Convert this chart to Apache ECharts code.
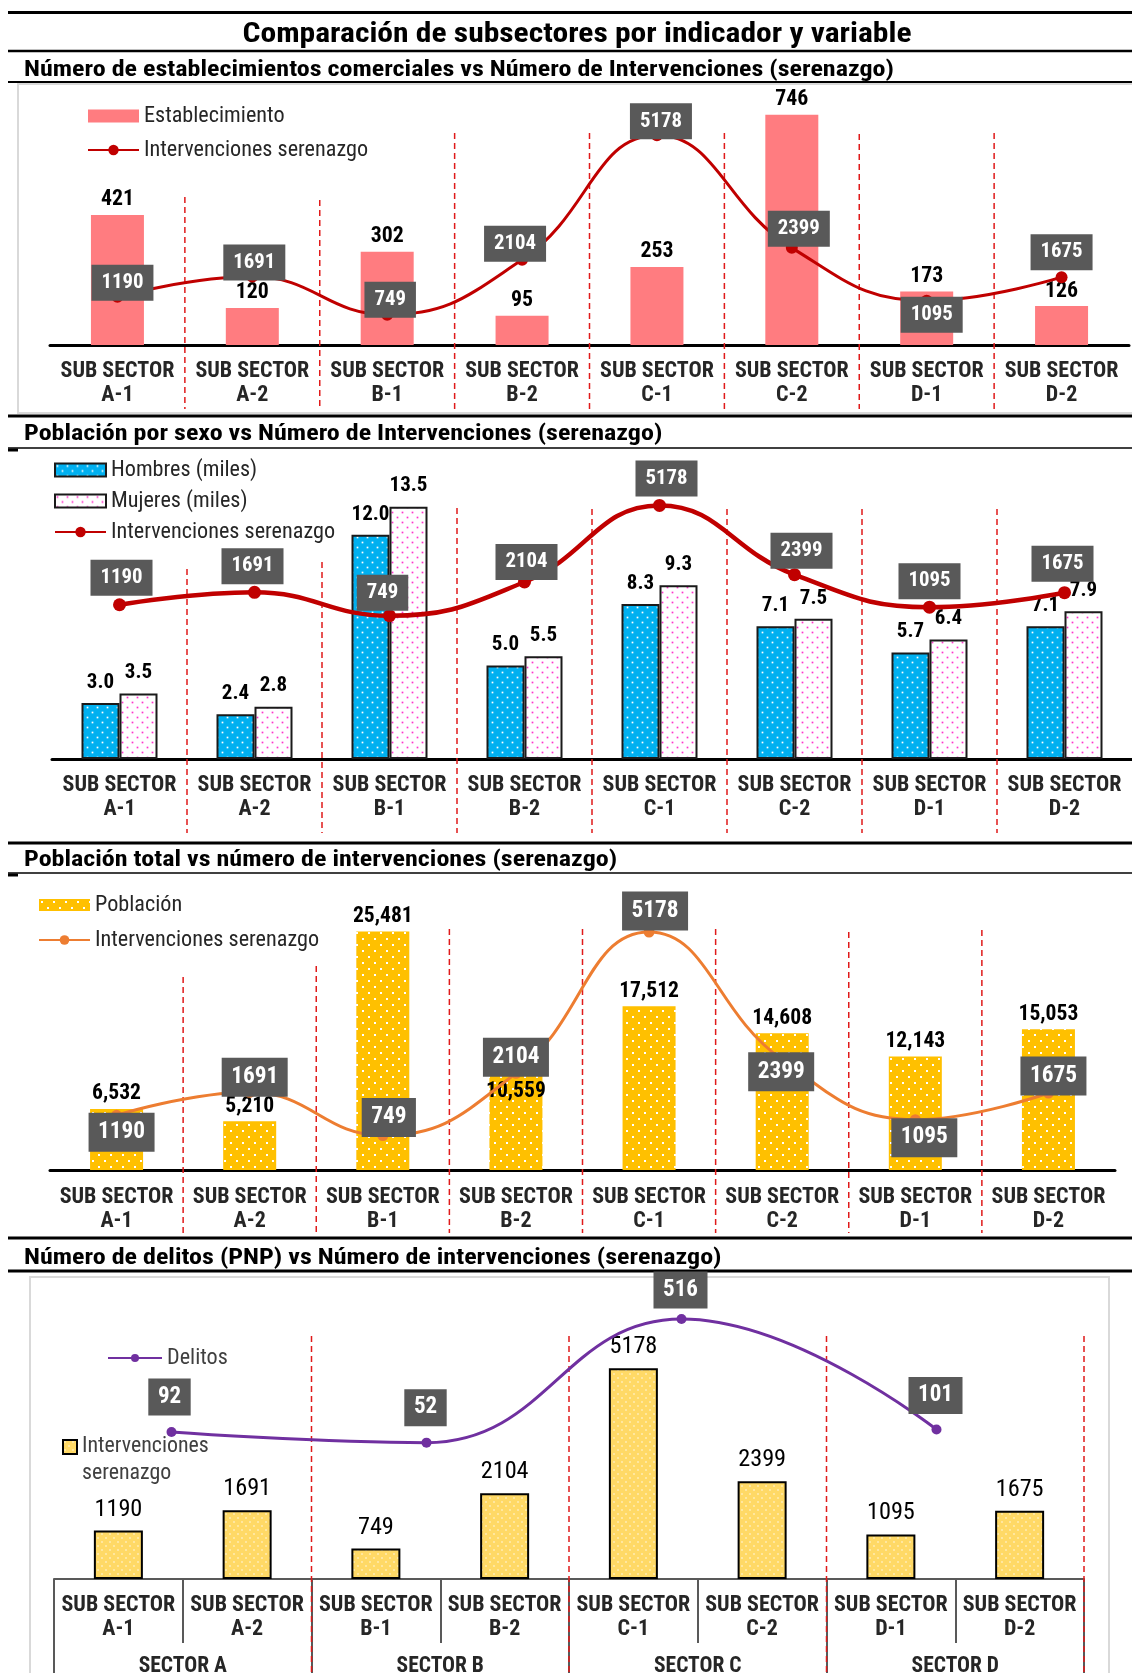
<!DOCTYPE html>
<html>
<head>
<meta charset="utf-8">
<title>Comparación de subsectores por indicador y variable</title>
<script src="https://cdn.jsdelivr.net/npm/echarts@6/dist/echarts.min.js"></script>
<style>
  html, body { margin: 0; padding: 0; background: #fff; }
  #chart { width: 1132px; height: 1673px; }
</style>
</head>
<body>
<div id="chart"></div>
<script>
// ---- data ----
const subsectors = ['A-1', 'A-2', 'B-1', 'B-2', 'C-1', 'C-2', 'D-1', 'D-2'];
const sectors = ['SECTOR A', 'SECTOR B', 'SECTOR C', 'SECTOR D'];
const establecimientos = [421, 120, 302, 95, 253, 746, 173, 126];
const intervenciones = [1190, 1691, 749, 2104, 5178, 2399, 1095, 1675];
const hombres = [3.0, 2.4, 12.0, 5.0, 8.3, 7.1, 5.7, 7.1];
const mujeres = [3.5, 2.8, 13.5, 5.5, 9.3, 7.5, 6.4, 7.9];
const poblacion = [6532, 5210, 25481, 10559, 17512, 14608, 12143, 15053];
const delitos = [92, 52, 516, 101];

// ---- label placement for the value boxes (pixel shift of the box centre from the point) ----
const boxShift1 = [[5, -14], [2, -14], [3, -15], [-7, -16], [4, -14], [7, -19], [5, 14], [0, -25]];
const boxShift2 = [[2, -27], [-2, -26], [-7, -23], [2, -20], [7, -27], [7, -24], [0, -26], [-2, -29]];
const boxShift3 = [[5, 17], [5, -15], [6, -18], [0, -16], [6, -21], [-1, 12], [9, 18], [5, -17]];
const boxShift4 = [[-2, -35], [-1, -35], [-1, -29], [-1, -34]];
const poblacionLabelPos = ['top', 'top', 'top', 'insideTop', 'top', 'top', 'top', 'top'];

// ---- fonts: prefer a narrow face, then size text to the narrow widths ----
const mctx = document.createElement('canvas').getContext('2d');
function measureWith(font, text) { mctx.font = font; return mctx.measureText(text).width; }
function hasFont(fam) {
  const probe = 'SUB SECTOR abcxyz 0123';
  return measureWith('bold 40px ' + fam + ', monospace', probe) !== measureWith('bold 40px monospace', probe);
}
const fontChoices = ["'Liberation Sans Narrow'", "'Arial Narrow'", "'Roboto Condensed'", "'Noto Sans Condensed'",
  "'DejaVu Sans Condensed'", "'Liberation Sans'"];
const FONT = (fontChoices.find(hasFont) || 'sans-serif') + ', sans-serif';
function measure(text, weight, size) { return measureWith(weight + ' ' + size + 'px ' + FONT, text); }
// font size giving the target width, kept within [0.7, 1.1] of the base size
function fit(text, weight, base, target) {
  const w = measure(text, weight, base);
  const k = Math.max(0.7, Math.min(1.1, target / w));
  return Math.round(base * k * 10) / 10;
}
const AX = fit('SUB SECTOR', 'bold', 21, 114);
const SEC = fit('SECTOR A', 'bold', 22, 88);
const LEG = fit('Intervenciones serenazgo', 'normal', 22, 224);
const LEG4 = fit('Intervenciones', 'normal', 22, 127);
const BAR1 = fit('421', 'bold', 21, 33);
const BAR2 = fit('13.5', 'bold', 21, 38);
const BAR3 = fit('25,481', 'bold', 22, 60);
const BAR4 = fit('1190', 'normal', 24, 48);
const BOX1 = Math.min(21, fit('1190', 'bold', 21, 42));
const BOX3 = Math.min(24, fit('1190', 'bold', 24, 47));
const BOX4 = Math.min(23, fit('516', 'bold', 23, 35));

const legendText = {
  est: 'Establecimiento',
  int1: 'Intervenciones serenazgo',
  hom: 'Hombres (miles)',
  muj: 'Mujeres (miles)',
  int2: 'Intervenciones serenazgo',
  pob: 'Población',
  int3: 'Intervenciones serenazgo',
  del: 'Delitos',
  int4: '\nIntervenciones\nserenazgo'
};

// dotted fill patterns
function dots(bg, dot, step, r) {
  const c = document.createElement('canvas');
  c.width = step * 2; c.height = step * 2;
  const g = c.getContext('2d');
  g.fillStyle = bg; g.fillRect(0, 0, c.width, c.height);
  g.fillStyle = dot;
  [[step * 0.5, step * 0.5], [step * 1.5, step * 1.5]].forEach(function (p) {
    g.fillRect(p[0] - r / 2, p[1] - r / 2, r, r);
  });
  return { image: c, repeat: 'repeat' };
}
const blueFill = dots('#00B0F0', '#ffffff', 5, 1.7);
const pinkFill = dots('#ffffff', '#FF33CC', 5, 1.7);
const goldFill = dots('#FFC000', '#ffffff', 6, 2);
const paleFill = dots('#FFD966', '#FFF2CC', 4, 1.5);

// grey value box; width and height follow the boxes of the narrow font
function boxLabel(size, sample, boxW, boxH) {
  const tw = measure(sample, 'bold', size);
  const pv = Math.max(4, (boxH - size) / 2);
  const ph = Math.max(5, (boxW - tw) / 2);
  return {
    show: true, position: 'inside', backgroundColor: '#595959', color: '#fff',
    fontFamily: FONT, fontWeight: 'bold', fontSize: size, lineHeight: size,
    padding: [pv, ph, pv, ph], formatter: '{c}'
  };
}
function withShift(values, shifts) {
  return values.map(function (v, i) { return { value: v, label: { offset: shifts[i] } }; });
}
const subLabel = function (margin) {
  return {
    interval: 0, margin: margin, fontFamily: FONT, fontWeight: 'bold', fontSize: AX,
    lineHeight: 24, color: '#262626',
    formatter: function (v) { return 'SUB SECTOR\n' + v; }
  };
};
const legendTextStyle = { fontFamily: FONT, fontSize: LEG, lineHeight: 22, color: '#262626' };
const fmtLegend = function (n) { return legendText[n]; };
function barLabel(size, weight, distance, formatter) {
  const l = { show: true, position: 'top', distance: distance, fontFamily: FONT, fontWeight: weight,
    fontSize: size, color: '#000' };
  if (formatter) l.formatter = formatter;
  return l;
}

const chart = echarts.init(document.getElementById('chart'), null, { renderer: 'canvas' });

chart.setOption({
  backgroundColor: '#ffffff',
  animation: false,
  grid: [
    { left: 50, top: 98, width: 1079, height: 247, outerBoundsMode: 'none' },
    { left: 52, top: 460, width: 1080, height: 299, outerBoundsMode: 'none' },
    { left: 50, top: 908, width: 1065, height: 262, outerBoundsMode: 'none' },
    { left: 54, top: 1294, width: 1030, height: 285, outerBoundsMode: 'none' },
    { left: 44, top: 1294, width: 1020, height: 285, outerBoundsMode: 'none' }
  ],
  xAxis: [
    { gridIndex: 0, type: 'category', data: subsectors, axisLine: { lineStyle: { color: '#000', width: 3 } },
      axisTick: { show: false }, axisLabel: subLabel(14), splitLine: { show: false } },
    { gridIndex: 1, type: 'category', data: subsectors, axisLine: { lineStyle: { color: '#000', width: 3 } },
      axisTick: { show: false }, axisLabel: subLabel(14), splitLine: { show: false } },
    { gridIndex: 2, type: 'category', data: subsectors, axisLine: { lineStyle: { color: '#000', width: 3 } },
      axisTick: { show: false }, axisLabel: subLabel(15), splitLine: { show: false } },
    { gridIndex: 3, type: 'category', data: subsectors, position: 'bottom',
      axisLine: { lineStyle: { color: '#595959', width: 2 } },
      axisTick: { show: true, interval: 0, length: 64, lineStyle: { color: '#595959', width: 2 } },
      axisLabel: subLabel(14), splitLine: { show: false } },
    { gridIndex: 3, type: 'category', data: sectors, position: 'bottom', axisLine: { show: false },
      axisTick: { show: true, interval: 0, length: 100, lineStyle: { color: '#595959', width: 2 } },
      axisLabel: { interval: 0, margin: 77, fontFamily: FONT, fontWeight: 'bold', fontSize: SEC, color: '#262626' },
      splitLine: { show: false } },
    { gridIndex: 4, type: 'category', data: sectors, show: false }
  ],
  yAxis: [
    { gridIndex: 0, type: 'value', min: 0, max: 800, show: false },
    { gridIndex: 0, type: 'value', min: 0, max: 6100, show: false },
    { gridIndex: 1, type: 'value', min: 0, max: 16, show: false },
    { gridIndex: 1, type: 'value', min: -5000, max: 7000, show: false },
    { gridIndex: 2, type: 'value', min: 0, max: 28000, show: false },
    { gridIndex: 2, type: 'value', min: 0, max: 5700, show: false },
    { gridIndex: 3, type: 'value', min: 0, max: 7000, show: false },
    { gridIndex: 4, type: 'value', min: -460, max: 610, show: false }
  ],
  legend: [
    { left: 87, top: 105, orient: 'vertical', padding: 0, itemWidth: 51, itemHeight: 13, itemGap: 12,
      selectedMode: false, textStyle: legendTextStyle, formatter: fmtLegend,
      data: [{ name: 'est', icon: 'rect' }, 'int1'] },
    { left: 54, top: 459, orient: 'vertical', padding: 0, itemWidth: 51, itemHeight: 13, itemGap: 9,
      selectedMode: false, textStyle: legendTextStyle, formatter: fmtLegend,
      data: [{ name: 'hom', icon: 'rect' }, { name: 'muj', icon: 'rect' }, 'int2'] },
    { left: 38, top: 894, orient: 'vertical', padding: 0, itemWidth: 51, itemHeight: 12, itemGap: 13,
      selectedMode: false, textStyle: legendTextStyle, formatter: fmtLegend,
      data: [{ name: 'pob', icon: 'rect' }, 'int3'] },
    { left: 107, top: 1347, orient: 'vertical', padding: 0, itemWidth: 54, itemHeight: 10,
      selectedMode: false, textStyle: { fontFamily: FONT, fontSize: LEG, lineHeight: 22, color: '#404040' },
      formatter: fmtLegend, data: ['del'] },
    { left: 62, top: 1406.5, orient: 'vertical', padding: 0, itemWidth: 14, itemHeight: 14,
      selectedMode: false,
      textStyle: { fontFamily: FONT, fontSize: LEG4, lineHeight: 27, color: '#404040' },
      formatter: fmtLegend, data: [{ name: 'int4', icon: 'rect' }] }
  ],
  series: [
    // establecimientos vs intervenciones
    { name: 'est', type: 'bar', xAxisIndex: 0, yAxisIndex: 0, data: establecimientos, barWidth: 53,
      itemStyle: { color: '#FF7C80' }, label: barLabel(BAR1, 'bold', 4) },
    { name: 'int1', type: 'line', xAxisIndex: 0, yAxisIndex: 1, smooth: 0.45, symbol: 'circle', symbolSize: 12,
      lineStyle: { color: '#C00000', width: 3 }, itemStyle: { color: '#C00000' },
      data: withShift(intervenciones, boxShift1), label: boxLabel(BOX1, '1190', 62, 36), z: 5 },
    // población por sexo
    { name: 'hom', type: 'bar', xAxisIndex: 1, yAxisIndex: 2, data: hombres, barWidth: 38, barGap: '0%',
      itemStyle: { color: blueFill, borderColor: '#1a1a1a', borderWidth: 2 },
      label: barLabel(BAR2, 'bold', 10, function (p) { return p.value.toFixed(1); }) },
    { name: 'muj', type: 'bar', xAxisIndex: 1, yAxisIndex: 2, data: mujeres, barWidth: 38, barGap: '0%',
      itemStyle: { color: pinkFill, borderColor: '#1a1a1a', borderWidth: 2 },
      label: barLabel(BAR2, 'bold', 10, function (p) { return p.value.toFixed(1); }) },
    { name: 'int2', type: 'line', xAxisIndex: 1, yAxisIndex: 3, smooth: 0.45, symbol: 'circle', symbolSize: 13,
      lineStyle: { color: '#C00000', width: 4.5 }, itemStyle: { color: '#C00000' },
      data: withShift(intervenciones, boxShift2), label: boxLabel(BOX1, '1190', 62, 36), z: 5 },
    // población total
    { name: 'pob', type: 'bar', xAxisIndex: 2, yAxisIndex: 4, barWidth: 53,
      data: poblacion.map(function (v, i) {
        return { value: v, label: { position: poblacionLabelPos[i], distance: poblacionLabelPos[i] === 'top' ? 4 : 9 } };
      }),
      itemStyle: { color: goldFill },
      label: barLabel(BAR3, 'bold', 4, function (p) { return p.value.toLocaleString('en-US'); }) },
    { name: 'int3', type: 'line', xAxisIndex: 2, yAxisIndex: 5, smooth: 0.45, symbol: 'circle', symbolSize: 11,
      lineStyle: { color: '#ED7D31', width: 3 }, itemStyle: { color: '#ED7D31' },
      data: withShift(intervenciones, boxShift3), label: boxLabel(BOX3, '1190', 66, 39), z: 5 },
    // delitos vs intervenciones
    { name: 'int4', type: 'bar', xAxisIndex: 3, yAxisIndex: 6, data: intervenciones, barWidth: 49,
      itemStyle: { color: paleFill, borderColor: '#000', borderWidth: 2 },
      label: barLabel(BAR4, 'normal', 9) },
    { name: 'del', type: 'line', xAxisIndex: 5, yAxisIndex: 7, smooth: 0.45, symbol: 'circle', symbolSize: 10,
      lineStyle: { color: '#7030A0', width: 3 }, itemStyle: { color: '#7030A0' },
      data: withShift(delitos, boxShift4), label: boxLabel(BOX4, '516', 54, 37), z: 5 }
  ]
});

// ---- frame: rules, headings, panel boxes and dashed separators ----
const graphics = [];
function hline(y, w, x1, x2) {
  graphics.push({ type: 'line', z: 0, shape: { x1: x1 == null ? 8 : x1, y1: y, x2: x2 == null ? 1132 : x2, y2: y },
    style: { stroke: '#000', lineWidth: w } });
}
[[12.5, 3], [51, 2.5], [82, 2], [416, 3], [448, 1.5], [843, 3], [873, 1.5], [1238, 3], [1271, 3]]
  .forEach(function (r) { hline(r[0], r[1]); });
hline(450, 3, 8, 18);
hline(875, 3, 8, 18);

graphics.push({ type: 'rect', z: 0, shape: { x: 18, y: 84, width: 1130, height: 329 },
  style: { fill: null, stroke: '#D9D9D9', lineWidth: 2 } });
graphics.push({ type: 'rect', z: 0, shape: { x: 30, y: 1277, width: 1079, height: 420 },
  style: { fill: null, stroke: '#D9D9D9', lineWidth: 2 } });

const titleText = 'Comparación de subsectores por indicador y variable';
const subtitles = [
  ['Número de establecimientos comerciales vs Número de Intervenciones (serenazgo)', 70],
  ['Población por sexo vs Número de Intervenciones (serenazgo)', 434],
  ['Población total vs número de intervenciones (serenazgo)', 860],
  ['Número de delitos (PNP) vs Número de intervenciones (serenazgo)', 1258]
];
// horizontal scale that gives the headings their narrow-face widths
const titleSX = 669 / measure(titleText, 'bold', 28);
const subSX = 870 / measure(subtitles[0][0], 'bold', 22);
function heading(text, x, y, size, align, sx) {
  graphics.push({ type: 'text', z: 10, x: x, y: y, scaleX: sx,
    style: { text: text, font: 'bold ' + size + 'px ' + FONT, fill: '#000',
      align: align, textAlign: align, verticalAlign: 'middle', textVerticalAlign: 'middle' } });
}
heading(titleText, 577, 35, 28, 'center', titleSX);
subtitles.forEach(function (s) { heading(s[0], 24, s[1], 22, 'left', subSX); });

function dashed(x, y1, y2) {
  graphics.push({ type: 'line', z: 1, shape: { x1: x, y1: y1, x2: x, y2: y2 },
    style: { stroke: '#E01A1A', lineWidth: 1.5, lineDash: [6, 4] } });
}
function catBoundaries(axisIndex, cats) {
  const px = function (i) { return chart.convertToPixel({ xAxisIndex: axisIndex }, cats[i]); };
  const xs = [];
  for (let i = 0; i < cats.length - 1; i++) xs.push((px(i) + px(i + 1)) / 2);
  return xs;
}
const sepTop1 = [197, 200, 133, 133, 133, 134, 133];
const sepTop2 = [569, 562, 508, 509, 509, 509, 509];
const sepTop3 = [977, 966, 929, 929, 929, 932, 930];
catBoundaries(0, subsectors).forEach(function (x, i) { dashed(x, sepTop1[i], 409); });
catBoundaries(1, subsectors).forEach(function (x, i) { dashed(x, sepTop2[i], 833); });
catBoundaries(2, subsectors).forEach(function (x, i) { dashed(x, sepTop3[i], 1233); });
const groupX = catBoundaries(4, sectors);
const lastC = chart.convertToPixel({ xAxisIndex: 4 }, sectors[3]);
const prevC = chart.convertToPixel({ xAxisIndex: 4 }, sectors[2]);
groupX.push(lastC + (lastC - prevC) / 2);
groupX.forEach(function (x) { dashed(x, 1336, 1673); });

chart.setOption({ graphic: graphics });
</script>
</body>
</html>
